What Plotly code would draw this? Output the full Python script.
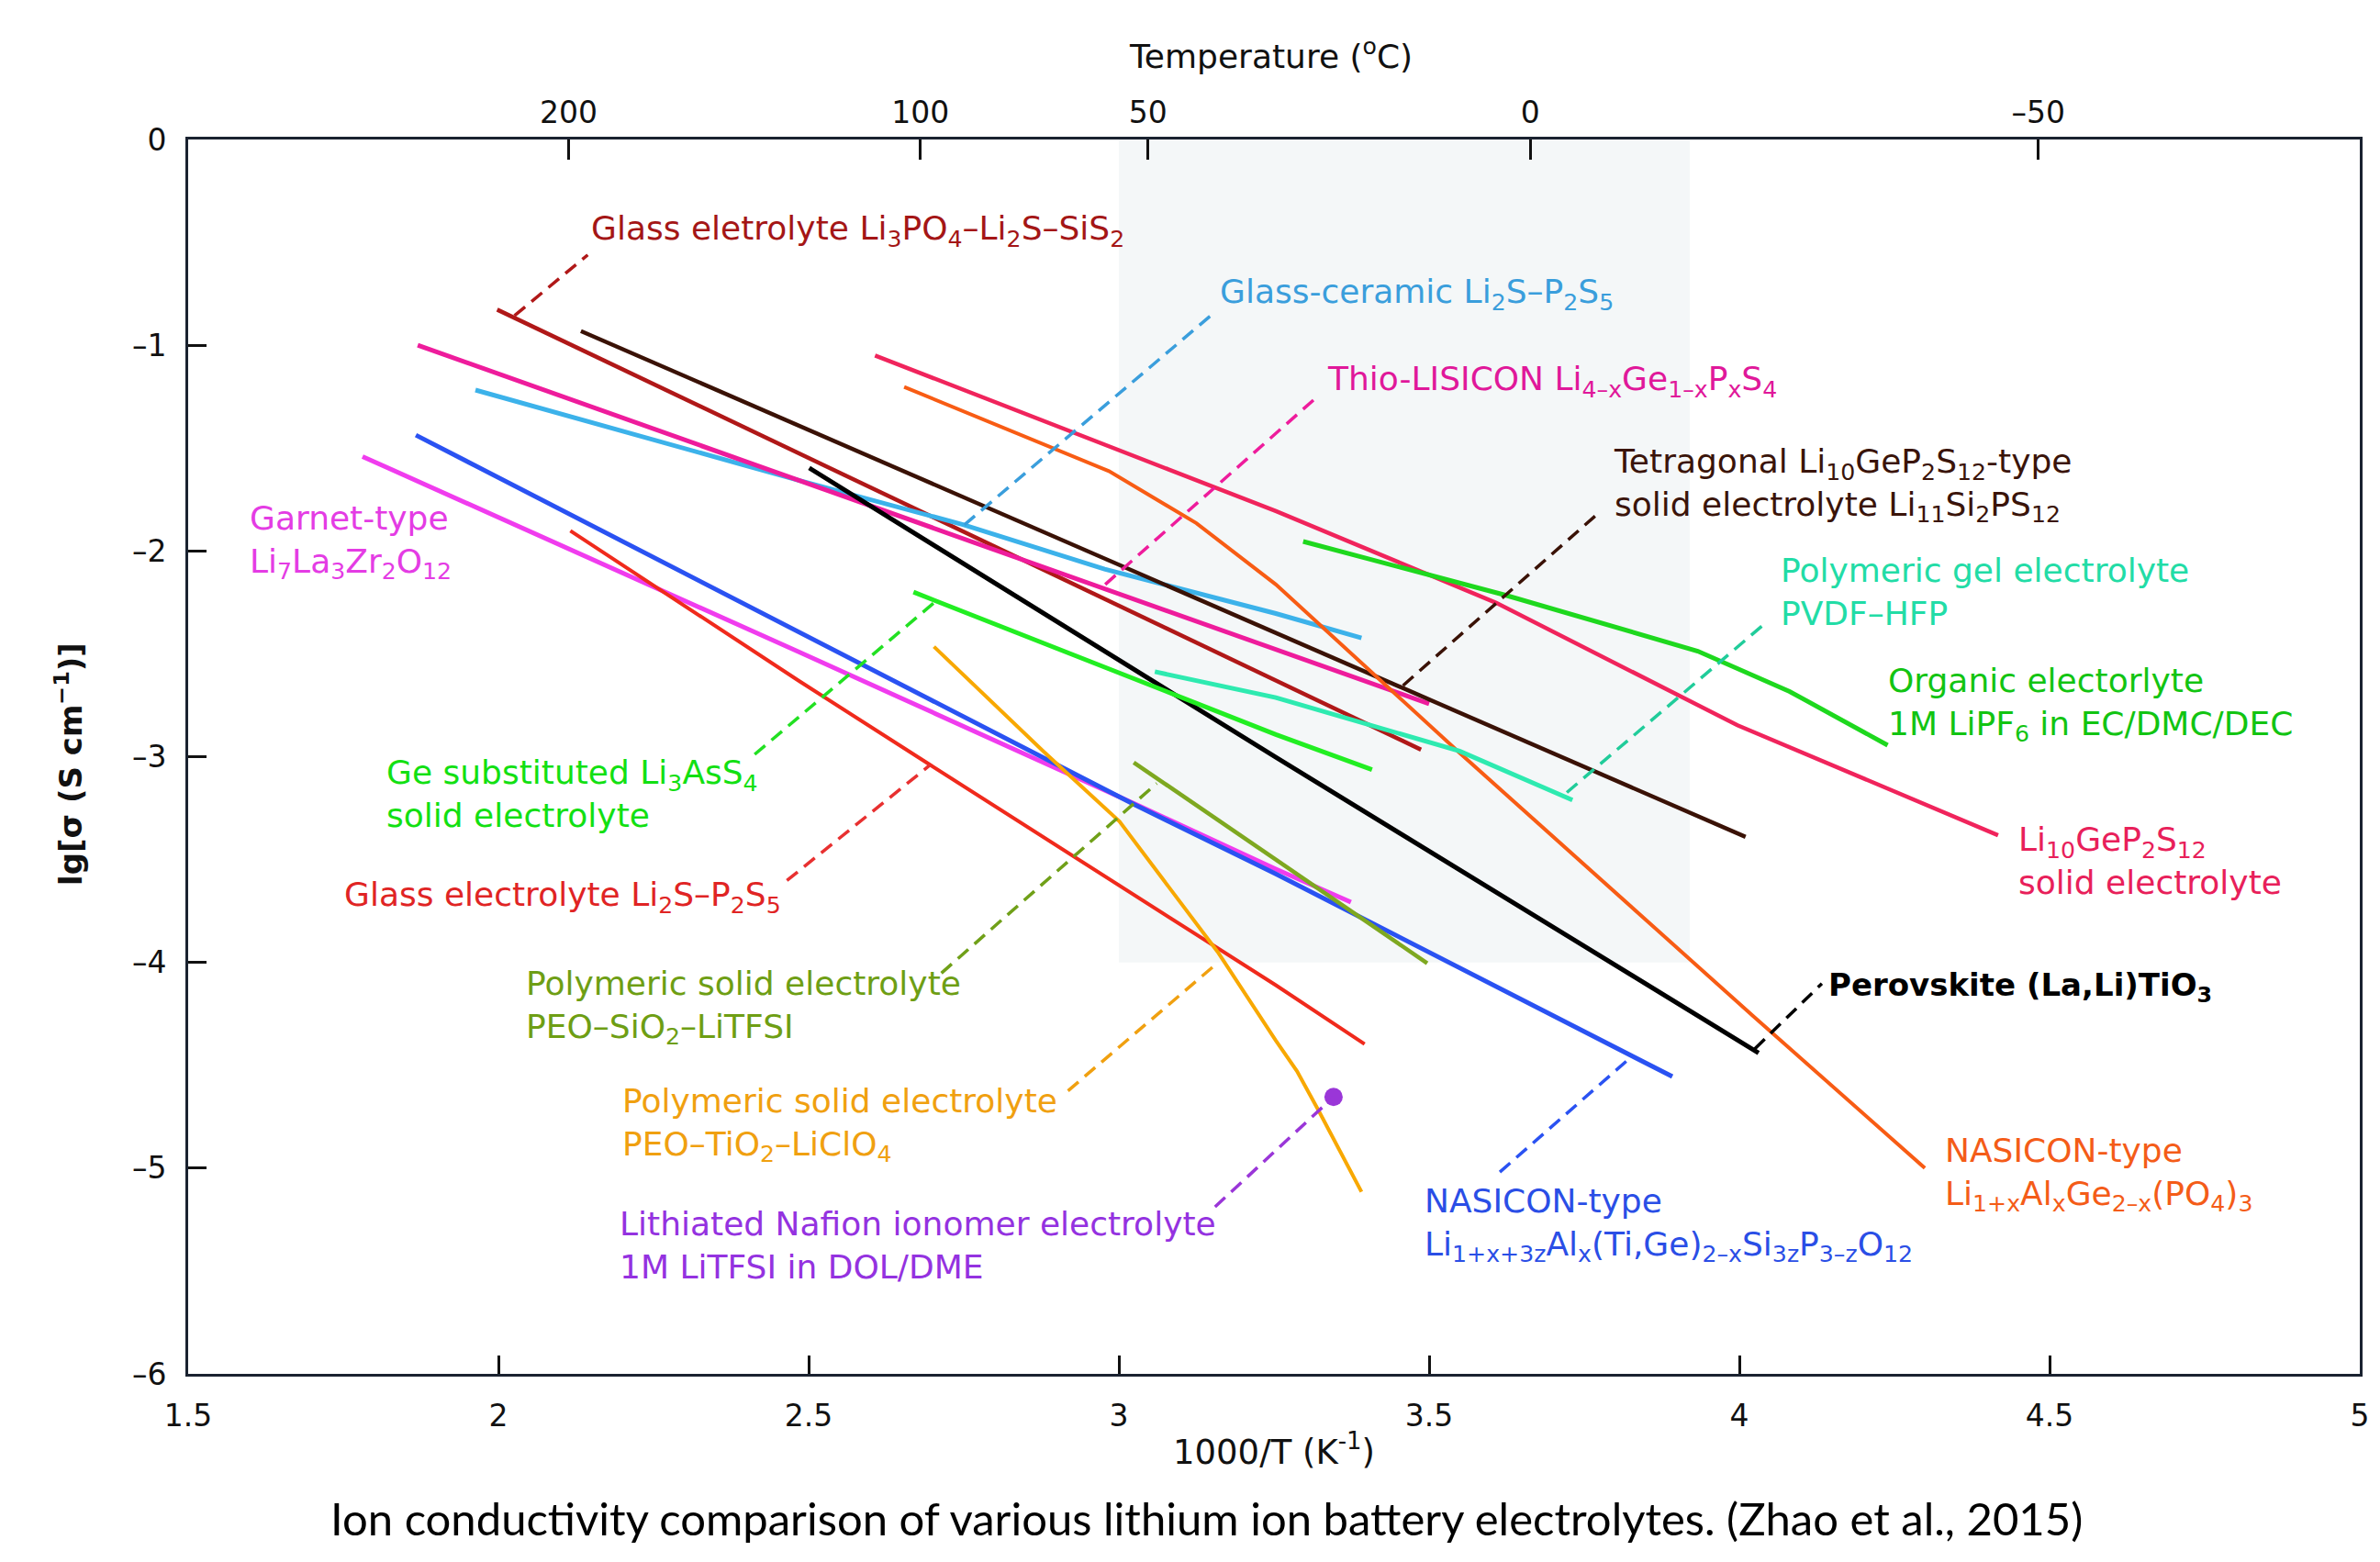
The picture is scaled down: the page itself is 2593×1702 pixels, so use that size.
import plotly.graph_objects as go

# ---------------- data ----------------
# x = 1000/T (K^-1), y = lg(sigma / S cm^-1)
li3po4_x = [1.998, 3.487]
li3po4_y = [-0.827, -2.966]

li2s_p2s5_gc_x = [1.963, 2.484, 2.750, 2.977, 3.253, 3.391]
li2s_p2s5_gc_y = [-1.218, -1.657, -1.873, -2.088, -2.304, -2.423]

thio_x = [1.870, 3.500]
thio_y = [-1.000, -2.743]

li11si2ps12_x = [2.133, 4.010]
li11si2ps12_y = [-0.931, -3.390]

lgps_x = [2.607, 3.253, 3.608, 3.894, 3.997, 4.417]
lgps_y = [-1.050, -1.806, -2.252, -2.691, -2.847, -3.382]

lagp_x = [2.654, 2.984, 3.125, 3.253, 3.549, 4.022, 4.299]
lagp_y = [-1.203, -1.612, -1.865, -2.163, -2.981, -4.260, -5.000]

garnet_x = [1.781, 2.484, 3.026, 3.253, 3.374]
garnet_y = [-1.541, -2.490, -3.230, -3.546, -3.707]

nasicon_x = [1.867, 2.484, 3.026, 3.253, 3.892]
nasicon_y = [-1.437, -2.393, -3.234, -3.570, -4.555]

glass_li2s_x = [2.116, 2.484, 2.696, 3.253, 3.396]
glass_li2s_y = [-1.902, -2.631, -3.040, -4.111, -4.397]

perovskite_x = [2.501, 3.253, 4.031]
perovskite_y = [-1.597, -3.003, -4.440]

li3ass4_x = [2.669, 3.253, 3.408]
li3ass4_y = [-2.200, -2.892, -3.063]

pvdf_x = [3.058, 3.253, 3.549, 3.731]
pvdf_y = [-2.587, -2.713, -2.973, -3.211]

organic_x = [3.297, 3.500, 3.623, 3.933, 4.081, 4.239]
organic_y = [-1.954, -2.118, -2.215, -2.487, -2.683, -2.944]

peo_sio2_x = [3.024, 3.253, 3.497]
peo_sio2_y = [-3.028, -3.501, -4.004]

peo_tio2_x = [2.702, 2.878, 3.001, 3.159, 3.253, 3.287, 3.322, 3.391]
peo_tio2_y = [-2.465, -2.973, -3.315, -3.948, -4.380, -4.528, -4.721, -5.115]

nafion_x = [3.346]
nafion_y = [-4.654]

x_ticks = [1.5, 2, 2.5, 3, 3.5, 4, 4.5, 5]
x_ticklabels = ["1.5", "2", "2.5", "3", "3.5", "4", "4.5", "5"]
y_ticks = [0, -1, -2, -3, -4, -5, -6]
y_ticklabels = ["0", "–1", "–2", "–3", "–4", "–5", "–6"]
top_ticks = [2.113, 2.680, 3.047, 3.663, 4.482]
top_ticklabels = ["200", "100", "50", "0", "–50"]

# ---------------- figure ----------------
W, H = 2593, 1702
ML, MR, MT, MB = 205, 22, 152, 205
FONT = "DejaVu Sans, Arial, sans-serif"
LFS = 36  # label font size

fig = go.Figure()

series = [
    (li3po4_x, li3po4_y, "#b01818", 4.5),
    (li2s_p2s5_gc_x, li2s_p2s5_gc_y, "#3cb2ea", 5),
    (thio_x, thio_y, "#ee1c9c", 5),
    (li11si2ps12_x, li11si2ps12_y, "#3a1206", 4.5),
    (lgps_x, lgps_y, "#f0245c", 4.5),
    (lagp_x, lagp_y, "#f85c14", 4),
    (garnet_x, garnet_y, "#f03cee", 5),
    (nasicon_x, nasicon_y, "#2a52f2", 5),
    (glass_li2s_x, glass_li2s_y, "#f02a1c", 4),
    (perovskite_x, perovskite_y, "#000000", 5),
    (li3ass4_x, li3ass4_y, "#22ee22", 5),
    (pvdf_x, pvdf_y, "#2eeab0", 5),
    (organic_x, organic_y, "#1ed81e", 5),
    (peo_sio2_x, peo_sio2_y, "#7ea820", 4.5),
    (peo_tio2_x, peo_tio2_y, "#f8a800", 4),
]
for xs, ys, col, w in series:
    fig.add_trace(go.Scatter(x=xs, y=ys, mode="lines", line=dict(color=col, width=w),
                             showlegend=False, hoverinfo="skip"))

fig.add_trace(go.Scatter(x=nafion_x, y=nafion_y, mode="markers",
                         marker=dict(color="#9a36d8", size=20), showlegend=False, hoverinfo="skip"))
# invisible trace on top axis
fig.add_trace(go.Scatter(x=[1.5, 5], y=[0, 0], xaxis="x2", mode="lines",
                         line=dict(width=0), showlegend=False, hoverinfo="skip"))

shapes = [
    dict(type="rect", xref="x", yref="y", x0=3.0, x1=3.92, y0=-4.0, y1=0,
         fillcolor="#f4f7f8", line=dict(width=0), layer="below"),
]
leaders = [
    ((2.026, -0.856), (2.144, -0.561), "#b01818"),
    ((2.751, -1.873), (3.152, -0.846), "#3a9edc"),
    ((2.978, -2.163), (3.318, -1.255), "#ee1c9c"),
    ((3.458, -2.654), (3.771, -1.821), "#3a1206"),
    ((3.722, -3.174), (4.040, -2.356), "#20cc9a"),
    ((4.025, -4.420), (4.133, -4.103), "#000000"),
    ((3.614, -5.019), (3.826, -4.459), "#2a52f2"),
    ((3.155, -5.188), (3.346, -4.654), "#9a36d8"),
    ((2.918, -4.624), (3.160, -4.000), "#f0a010"),
    ((2.714, -4.052), (3.061, -3.130), "#70a018"),
    ((2.465, -3.602), (2.696, -3.040), "#e83030"),
    ((2.413, -2.989), (2.702, -2.252), "#22e022"),
]
for (x0, y0), (x1, y1), col in leaders:
    shapes.append(dict(type="line", xref="x", yref="y", x0=x0, y0=y0, x1=x1, y1=y1,
                       line=dict(color=col, width=3.5, dash="15px,9px")))

labels = [
    (2.147, -0.442, "Glass eletrolyte Li<sub>3</sub>PO<sub>4</sub>–Li<sub>2</sub>S–SiS<sub>2</sub>", "#a41616", LFS),
    (3.160, -0.753, "Glass-ceramic Li<sub>2</sub>S–P<sub>2</sub>S<sub>5</sub>", "#3a9edc", LFS),
    (3.333, -1.177, "Thio-LISICON Li<sub>4–x</sub>Ge<sub>1–x</sub>P<sub>x</sub>S<sub>4</sub>", "#e0189a", LFS),
    (3.794, -1.679, "Tetragonal Li<sub>10</sub>GeP<sub>2</sub>S<sub>12</sub>-type<br>solid electrolyte Li<sub>11</sub>Si<sub>2</sub>PS<sub>12</sub>", "#3a140a", LFS),
    (4.064, -2.200, "Polymeric gel electrolyte<br>PVDF–HFP", "#22dca6", LFS),
    (4.237, -2.745, "Organic electorlyte<br>1M LiPF<sub>6</sub> in EC/DMC/DEC", "#12c412", LFS),
    (4.447, -3.507, "Li<sub>10</sub>GeP<sub>2</sub>S<sub>12</sub><br>solid electrolyte", "#e8205a", LFS),
    (4.140, -4.119, "<b>Perovskite (La,Li)TiO<sub>3</sub></b>", "#000000", 34),
    (4.329, -5.028, "NASICON-type<br>Li<sub>1+x</sub>Al<sub>x</sub>Ge<sub>2–x</sub>(PO<sub>4</sub>)<sub>3</sub>", "#f45c18", LFS),
    (3.490, -5.277, "NASICON-type<br>Li<sub>1+x+3z</sub>Al<sub>x</sub>(Ti,Ge)<sub>2–x</sub>Si<sub>3z</sub>P<sub>3–z</sub>O<sub>12</sub>", "#2a4ee6", LFS),
    (2.193, -5.375, "Lithiated Nafion ionomer electrolyte<br>1M LiTFSI in DOL/DME", "#9432e0", LFS),
    (2.196, -4.789, "Polymeric solid electrolyte<br>PEO–TiO<sub>2</sub>–LiClO<sub>4</sub>", "#f0a010", LFS),
    (2.041, -4.218, "Polymeric solid electrolyte<br>PEO–SiO<sub>2</sub>–LiTFSI", "#6e9e14", LFS),
    (1.748, -3.682, "Glass electrolyte Li<sub>2</sub>S–P<sub>2</sub>S<sub>5</sub>", "#e02424", LFS),
    (1.816, -3.181, "Ge substituted Li<sub>3</sub>AsS<sub>4</sub><br>solid electrolyte", "#12e012", LFS),
    (1.596, -1.956, "Garnet-type<br>Li<sub>7</sub>La<sub>3</sub>Zr<sub>2</sub>O<sub>12</sub>", "#e43ce4", LFS),
]
annotations = []
for x, y, t, col, fs in labels:
    annotations.append(dict(x=x, y=y, xref="x", yref="y", text=t, showarrow=False,
                            xanchor="left", yanchor="middle", align="left",
                            font=dict(family=FONT, size=fs, color=col)))

annotations += [
    dict(x=3.245, y=1.0688, xref="x", yref="paper", text="Temperature (<sup>o</sup>C)",
         showarrow=False, xanchor="center", yanchor="middle",
         font=dict(family=FONT, size=36, color="#111")),
    dict(x=3.25, y=-0.0613, xref="x", yref="paper", text="1000/T (K<sup>-1</sup>)",
         showarrow=False, xanchor="center", yanchor="middle",
         font=dict(family=FONT, size=37, color="#111")),
    dict(x=-0.0552, y=0.494, xref="paper", yref="paper", text="<b>lg[σ (S cm<sup>−1</sup>)]</b>",
         showarrow=False, xanchor="center", yanchor="middle", textangle=-90,
         font=dict(family=FONT, size=34, color="#111")),
    dict(x=0.469, y=-0.117, xref="paper", yref="paper",
         text="Ion conductivity comparison of various lithium ion battery electrolytes. (Zhao et al., 2015)",
         showarrow=False, xanchor="center", yanchor="middle",
         font=dict(family="Lato, Open Sans, sans-serif", size=49, color="#000")),
]

axis_font = dict(family=FONT, size=33, color="#111")
fig.update_layout(
    width=W, height=H, autosize=False,
    margin=dict(l=ML, r=MR, t=MT, b=MB, pad=0),
    paper_bgcolor="white", plot_bgcolor="white",
    shapes=shapes, annotations=annotations,
    xaxis=dict(range=[1.5, 5], tickvals=x_ticks, ticktext=x_ticklabels,
               ticks="inside", ticklen=20, tickwidth=3, tickcolor="#111",
               showline=True, linewidth=3, linecolor="#1a2230", mirror=True,
               showgrid=False, zeroline=False, tickfont=axis_font, ticklabelstandoff=14),
    xaxis2=dict(range=[1.5, 5], overlaying="x", side="top", anchor="y",
                tickvals=top_ticks, ticktext=top_ticklabels,
                ticks="inside", ticklen=22, tickwidth=3, tickcolor="#111",
                showline=False, showgrid=False, zeroline=False, tickfont=axis_font,
                ticklabelstandoff=10),
    yaxis=dict(range=[-6, 0], tickvals=y_ticks, ticktext=y_ticklabels,
               ticks="inside", ticklen=20, tickwidth=3, tickcolor="#111",
               showline=True, linewidth=3, linecolor="#1a2230", mirror=True,
               showgrid=False, zeroline=False, tickfont=axis_font, ticklabelstandoff=14),
)

fig.write_html("out.html", config={"displayModeBar": False},
               post_script="document.body.style.margin='0';document.body.style.overflow='hidden';")
